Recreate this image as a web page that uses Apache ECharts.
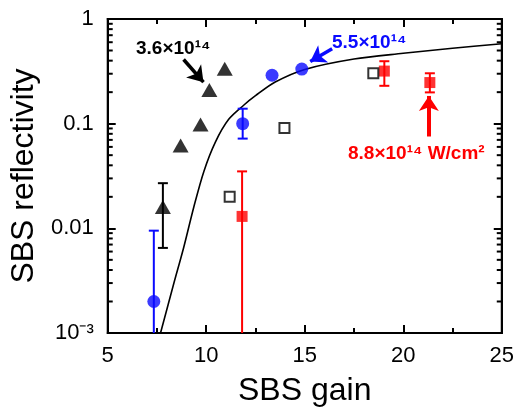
<!DOCTYPE html>
<html>
<head>
<meta charset="utf-8">
<script src="https://cdn.jsdelivr.net/npm/echarts@6/dist/echarts.min.js"></script>
<style>
  html, body { margin: 0; padding: 0; background: #fff; }
  #chart { width: 517px; height: 412px; }
</style>
</head>
<body>
<div id="chart"></div>
<script>
// ---- data ----
// black triangles
const triX = [7.8, 8.7, 9.71, 10.16, 10.94];
const triY = [0.016, 0.062, 0.098, 0.21, 0.335];
const triErr = [[7.8, 0.0065, 0.027]]; // [x, low, high]

// blue circles
const blueX = [7.34, 11.85, 13.34, 14.85];
const blueY = [0.002, 0.1, 0.29, 0.332];
const blueErr = [[7.34, 0.0005, 0.0095], [11.85, 0.072, 0.139]];

// red filled squares
const redX = [11.82, 19.04, 21.35];
const redY = [0.013, 0.318, 0.247];
const redErr = [[11.82, 0.0005, 0.035], [19.04, 0.23, 0.395], [21.35, 0.199, 0.303]];

// open squares
const openX = [11.19, 13.97, 18.48];
const openY = [0.02, 0.091, 0.303];

// solid model curve
const curveX = [7.68, 8.36, 8.86, 9.37, 9.88, 10.47, 11.14, 11.9, 12.5, 13.5, 15, 17.5, 20, 22.5, 25];
const curveY = [0.001, 0.003, 0.0066, 0.016, 0.035, 0.067, 0.11, 0.15, 0.185, 0.25, 0.33, 0.415, 0.47, 0.525, 0.58];

// axes
const xMin = 5, xMax = 25, xStep = 5;
const yMin = 0.001, yMax = 1;
const yTickLabels = ['10\u207B\u00B3', '0.01', '0.1', '1'];
const yMinorTicks = [];
[0.001, 0.01, 0.1].forEach(function (d) {
  for (let k = 2; k <= 9; k++) yMinorTicks.push(k * d);
});

// annotation texts
const noteBlack = '3.6×10\u00B9\u2074';
const noteBlue = '5.5×10\u00B9\u2074';
const noteRed = '8.8×10\u00B9\u2074 W/cm\u00B2';

const BLUE = '#0a0aff';
const RED = '#fe0000';
const FONT = '"Liberation Sans", Arial, Helvetica, sans-serif';
const NOTE_FONT = 'bold 19px ' + FONT;

function pairs(xs, ys) {
  return xs.map(function (x, i) { return [x, ys[i]]; });
}

function errorBars(color) {
  return function (params, api) {
    const x = api.value(0);
    const lo = api.coord([x, api.value(1)]);
    const hi = api.coord([x, api.value(2)]);
    const half = 5;
    const style = { stroke: color, lineWidth: 2 };
    return {
      type: 'group',
      children: [
        { type: 'line', shape: { x1: lo[0], y1: lo[1], x2: hi[0], y2: hi[1] }, style: style },
        { type: 'line', shape: { x1: hi[0] - half, y1: hi[1], x2: hi[0] + half, y2: hi[1] }, style: style },
        { type: 'line', shape: { x1: lo[0] - half, y1: lo[1], x2: lo[0] + half, y2: lo[1] }, style: style }
      ]
    };
  };
}

// fresh objects for each axis
function axisLine() { return { show: true, onZero: false, lineStyle: { color: '#000', width: 2 } }; }
function majorTick() { return { show: true, inside: true, length: 8, lineStyle: { color: '#000', width: 2 } }; }
function xMinorTick() { return { show: true, splitNumber: 2, length: 5, lineStyle: { color: '#000', width: 2 } }; }

const chart = echarts.init(document.getElementById('chart'));

chart.setOption({
  animation: false,
  grid: { left: 107, right: 15, top: 19, bottom: 75, show: true, borderColor: '#000', borderWidth: 2 },
  xAxis: [
    {
      type: 'value', min: xMin, max: xMax, interval: xStep,
      name: 'SBS gain', nameLocation: 'middle', nameGap: 42,
      nameTextStyle: { fontSize: 32, color: '#000', fontFamily: FONT },
      axisLine: axisLine(),
      axisTick: majorTick(),
      minorTick: xMinorTick(),
      axisLabel: { fontSize: 22, color: '#000', fontFamily: FONT, margin: 12 },
      splitLine: { show: false },
      minorSplitLine: { show: false }
    },
    {
      type: 'value', min: xMin, max: xMax, interval: xStep, position: 'top',
      axisLine: axisLine(),
      axisTick: majorTick(),
      minorTick: xMinorTick(),
      axisLabel: { show: false },
      splitLine: { show: false },
      minorSplitLine: { show: false }
    }
  ],
  yAxis: [
    {
      type: 'log', logBase: 10, min: yMin, max: yMax,
      name: 'SBS reflectivity', nameLocation: 'middle', nameGap: 66,
      nameTextStyle: { fontSize: 32, color: '#000', fontFamily: FONT },
      axisLine: axisLine(),
      axisTick: majorTick(),
      axisLabel: {
        fontSize: 22, color: '#000', fontFamily: FONT, margin: 14,
        formatter: function (v) {
          return yTickLabels[Math.round(Math.log10(v)) + 3];
        }
      },
      splitLine: { show: false }
    },
    {
      type: 'log', logBase: 10, min: yMin, max: yMax, position: 'right',
      axisLine: axisLine(),
      axisTick: majorTick(),
      axisLabel: { show: false },
      splitLine: { show: false }
    }
  ],
  series: [
    {
      name: 'model',
      type: 'line',
      data: pairs(curveX, curveY),
      showSymbol: false,
      smooth: 0.3,
      lineStyle: { color: '#000', width: 1.6 },
      z: 2,
      markLine: {
        silent: true,
        symbol: ['none', 'arrow'],
        symbolSize: 15,
        label: { show: false },
        lineStyle: { type: 'solid' },
        data: [
          [{ coord: [8.85, 0.41], lineStyle: { color: '#000', width: 3.5, type: 'solid' } }, { coord: [9.86, 0.249] }],
          [{ coord: [16.39, 0.52], lineStyle: { color: BLUE, width: 3.5, type: 'solid' } }, { coord: [15.28, 0.393] }],
          [{ coord: [21.3, 0.0754], lineStyle: { color: RED, width: 4, type: 'solid' } }, { coord: [21.3, 0.184] }]
        ]
      }
    },
    {
      // log minor ticks on the left and right frame
      type: 'custom',
      data: yMinorTicks.map(function (v) { return [xMin, v]; }),
      renderItem: function (params, api) {
        const v = api.value(1);
        const l = api.coord([xMin, v]);
        const r = api.coord([xMax, v]);
        const style = { stroke: '#000', lineWidth: 2 };
        return {
          type: 'group',
          children: [
            { type: 'line', shape: { x1: l[0], y1: l[1], x2: l[0] + 5, y2: l[1] }, style: style },
            { type: 'line', shape: { x1: r[0] - 5, y1: r[1], x2: r[0], y2: r[1] }, style: style }
          ]
        };
      },
      z: 5
    },
    { type: 'custom', clip: true, data: triErr, renderItem: errorBars('#000'), z: 3 },
    { type: 'custom', clip: true, data: blueErr, renderItem: errorBars(BLUE), z: 3 },
    { type: 'custom', clip: true, data: redErr, renderItem: errorBars(RED), z: 3 },
    {
      name: 'triangles', type: 'scatter', symbol: 'triangle', symbolSize: [16, 14],
      data: pairs(triX, triY), itemStyle: { color: '#000' }, z: 4
    },
    {
      name: 'blue', type: 'scatter', symbol: 'circle', symbolSize: 13,
      data: pairs(blueX, blueY), itemStyle: { color: BLUE }, z: 4
    },
    {
      name: 'red', type: 'scatter', symbol: 'rect', symbolSize: 11,
      data: pairs(redX, redY), itemStyle: { color: RED }, z: 4
    },
    {
      name: 'open', type: 'scatter', symbol: 'rect', symbolSize: 10,
      data: pairs(openX, openY),
      itemStyle: { color: '#fff', borderColor: '#000', borderWidth: 2 }, z: 4
    }
  ],
  graphic: [
    { type: 'text', left: 136, top: 39, z: 10, style: { text: noteBlack, fill: '#000', font: NOTE_FONT } },
    { type: 'text', left: 332, top: 33, z: 10, style: { text: noteBlue, fill: BLUE, font: NOTE_FONT } },
    { type: 'text', left: 348, top: 144, z: 10, style: { text: noteRed, fill: RED, font: NOTE_FONT } }
  ]
});
</script>
</body>
</html>
